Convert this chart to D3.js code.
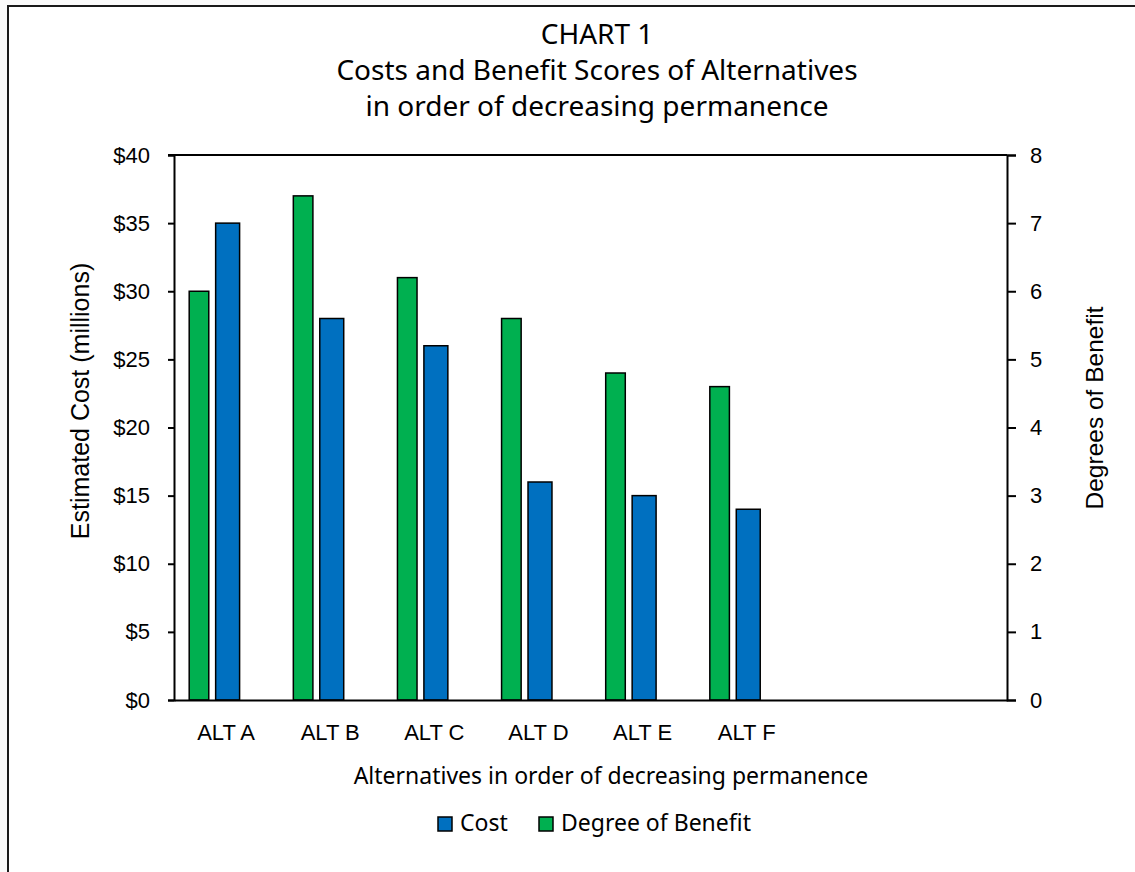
<!DOCTYPE html>
<html>
<head>
<meta charset="utf-8">
<script src="https://cdn.jsdelivr.net/npm/d3@7"></script>
<style>
  html, body { margin: 0; padding: 0; background: #fafafa; }
  svg { display: block; }
</style>
</head>
<body>
<svg id="chart" width="1135" height="872"></svg>
<script>
// Alternatives (two trailing empty slots keep the category spacing)
const categories = ["ALT A", "ALT B", "ALT C", "ALT D", "ALT E", "ALT F", "", " "];
// Estimated cost in millions of dollars (left axis)
const costValues = [35, 28, 26, 16, 15, 14];
// Degree of benefit score (right axis)
const benefitValues = [6.0, 7.4, 6.2, 5.6, 4.8, 4.6];
const costTicks = [0, 5, 10, 15, 20, 25, 30, 35, 40];
const benefitTicks = [0, 1, 2, 3, 4, 5, 6, 7, 8];
const titleLines = ["CHART 1", "Costs and Benefit Scores of Alternatives", "in order of decreasing permanence"];

const svg = d3.select("#chart");
const W = 1135, H = 872;
const plot = { left: 174, right: 1007, top: 155, bottom: 700 };
const BLUE = "#0070C0", GREEN = "#00B050";
const sansA = "'Liberation Sans', Arial, sans-serif";
const sansB = "'Noto Sans', 'Open Sans', sans-serif";

// chart area with frame
svg.append("rect").attr("x", 8).attr("y", 6).attr("width", W).attr("height", H)
  .attr("fill", "#fff").attr("stroke", "#1a1a1a").attr("stroke-width", 2);

const x = d3.scaleBand().domain(categories).range([plot.left, plot.right]).padding(0);
const yL = d3.scaleLinear().domain([0, 40]).range([plot.bottom, plot.top]);
const yR = d3.scaleLinear().domain([0, 8]).range([plot.bottom, plot.top]);
const bw = x.bandwidth();

// title
svg.append("g").selectAll("text").data(titleLines).join("text")
  .attr("x", 597).attr("y", (d, i) => 44 + i * 36)
  .attr("text-anchor", "middle").attr("font-family", sansB).attr("font-size", 28)
  .attr("fill", "#000").text(d => d);

// bars: benefit (green) then cost (blue)
const data = categories.slice(0, costValues.length).map((c, i) => ({ c, cost: costValues[i], benefit: benefitValues[i] }));
const bars = svg.append("g").attr("stroke", "#000").attr("stroke-width", 1.5);
bars.selectAll("rect.benefit").data(data).join("rect").attr("class", "benefit")
  .attr("x", d => x(d.c) + bw * 0.146).attr("width", bw * 0.188)
  .attr("y", d => yR(d.benefit)).attr("height", d => yR(0) - yR(d.benefit))
  .attr("fill", GREEN);
bars.selectAll("rect.cost").data(data).join("rect").attr("class", "cost")
  .attr("x", d => x(d.c) + bw * 0.400).attr("width", bw * 0.230)
  .attr("y", d => yL(d.cost)).attr("height", d => yL(0) - yL(d.cost))
  .attr("fill", BLUE);

// axes
const axStyle = size => g => {
  g.selectAll("path, line").attr("stroke", "#000").attr("stroke-width", 2);
  g.selectAll("text").attr("font-family", sansA).attr("font-size", size).attr("fill", "#000");
};
svg.append("g").attr("transform", `translate(${plot.left},0)`)
  .call(d3.axisLeft(yL).tickValues(costTicks).tickFormat(d => "$" + d).tickSizeInner(6).tickSizeOuter(6).tickPadding(18))
  .call(axStyle(22));
svg.append("g").attr("transform", `translate(${plot.right},0)`)
  .call(d3.axisRight(yR).tickValues(benefitTicks).tickFormat(d3.format("d")).tickSizeInner(9).tickSizeOuter(9).tickPadding(14))
  .call(axStyle(22));
svg.append("g").attr("transform", `translate(0,${plot.bottom})`)
  .call(d3.axisBottom(x).tickSize(0).tickSizeOuter(0).tickPadding(24))
  .call(axStyle(22));
svg.append("line").attr("x1", plot.left - 6).attr("x2", plot.right)
  .attr("y1", plot.top).attr("y2", plot.top).attr("stroke", "#000").attr("stroke-width", 2);

// axis titles
svg.append("text").attr("transform", `translate(89,401) rotate(-90)`)
  .attr("text-anchor", "middle").attr("font-family", sansA).attr("font-size", 25)
  .text("Estimated Cost (millions)");
svg.append("text").attr("transform", `translate(1103,408) rotate(-90)`)
  .attr("text-anchor", "middle").attr("font-family", sansA).attr("font-size", 24.5)
  .text("Degrees of Benefit");
svg.append("text").attr("x", 611).attr("y", 784)
  .attr("text-anchor", "middle").attr("font-family", sansB).attr("font-size", 23)
  .text("Alternatives in order of decreasing permanence");

// legend
const legendItems = [{ label: "Cost", color: BLUE, x: 438 }, { label: "Degree of Benefit", color: GREEN, x: 539 }];
const lg = svg.append("g").selectAll("g").data(legendItems).join("g")
  .attr("transform", d => `translate(${d.x},817)`);
lg.append("rect").attr("width", 14).attr("height", 14).attr("fill", d => d.color)
  .attr("stroke", "#000").attr("stroke-width", 1.5);
lg.append("text").attr("x", 22).attr("y", 14).attr("font-family", sansB).attr("font-size", 23)
  .text(d => d.label);
</script>
</body>
</html>
